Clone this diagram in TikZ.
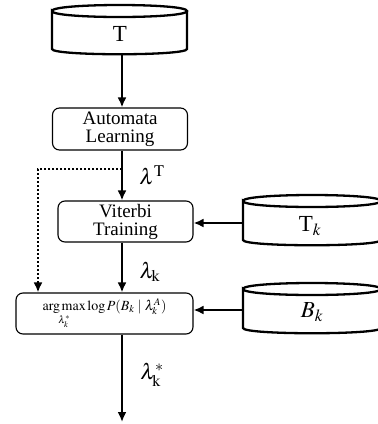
\documentclass[tikz,border=0pt]{standalone}
\usepackage{mathptmx}
\usepackage{fontspec}
\setmainfont{Liberation Serif}
\usetikzlibrary{arrows.meta}
\newcommand\mycyl[4]{%
  \draw[cyl] (#1,#3) .. controls (#1,#3-8) and (#2,#3-8) .. (#2,#3)
    .. controls (#2,#3+8) and (#1,#3+8) .. (#1,#3) -- (#1,#4)
    .. controls (#1,#4+7) and (#2,#4+7) .. (#2,#4) -- (#2,#3);}
\begin{document}
\begin{tikzpicture}[x=1pt,y=-1pt,
  flow/.style={line width=2.4pt,-{Latex[length=10pt,width=9pt]}},
  dflow/.style={line width=2pt,dotted,-{Latex[length=10pt,width=9pt]}},
  box/.style={draw,line width=1.1pt,rounded corners=7pt,align=center,
    font=\fontsize{19}{20}\selectfont,inner sep=0pt},
  cyl/.style={line width=2.3pt},
  cyltext/.style={font=\fontsize{23}{24}\selectfont,inner sep=0pt},
  lbl/.style={font=\fontsize{22}{24}\selectfont,inner sep=0pt}]
\useasboundingbox (0,0) rectangle (378,424);
\clip (0,0) rectangle (378,424);
% cylinders
\mycyl{52}{187}{11}{49}
\node[cyltext] (t) at (120,34) {T};
\coordinate (tbot) at (122,54);
\mycyl{243}{381}{201}{240}
\node[cyltext] (tk) at (310,226) {T$_{k}$};
\coordinate (tkl) at (243,223);
\mycyl{243}{381}{289}{328}
\node[cyltext] (bk) at (312,312) {$B_{k}$};
\coordinate (bkl) at (243,310);
% boxes
\coordinate (axis) at (122,0);
\node[box,minimum width=135pt,minimum height=42pt] (al) at (120,129) {Automata\\[-2pt]Learning};
\node[box,minimum width=135pt,minimum height=41pt] (vt) at (125.5,221.5) {Viterbi\\[-2pt]Training};
\node[box,minimum width=177pt,minimum height=41pt,font=\fontsize{14}{16}\selectfont] (am) at (104.5,313.5)
  {$\mathop{\mathrm{arg\,max}}\limits_{\lambda_k^{*}}\log P(B_{k}\mid\lambda_k^{A})$};
\coordinate (dstart) at (122,169);
\coordinate (dcorner) at (38,169);
\coordinate (endpt) at (122,422);
% connectors
\draw[flow] (tbot) -- (al.north -| axis);
\draw[flow] (al.south -| axis) -- (vt.north -| axis);
\draw[flow] (vt.south -| axis) -- (am.north -| axis);
\draw[flow] (am.south -| axis) -- (endpt);
\draw[dflow] (dstart) -- (dcorner) -- (am.north -| dcorner);
\draw[flow] (tkl) -- (vt.east |- tkl);
\draw[flow] (bkl) -- (am.east |- bkl);
% labels
\node[lbl] (l1) at (152,175) {$\lambda^{\mathrm{T}}$};
\node[lbl] (l2) at (150,272) {$\lambda_{\mathrm{k}}$};
\node[lbl] (l3) at (152,375) {$\lambda_{\mathrm{k}}^{*}$};
\end{tikzpicture}
\end{document}
